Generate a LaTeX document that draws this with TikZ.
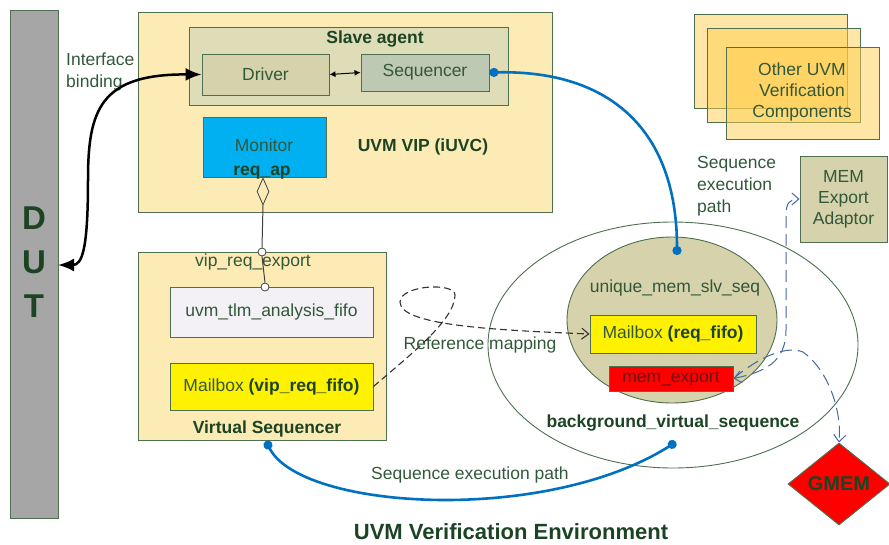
\documentclass[tikz,border=0pt]{standalone}
\usepackage{fontspec}
\setmainfont{Liberation Sans}
\usetikzlibrary{shapes.geometric,arrows.meta}

\definecolor{wheat}{RGB}{253,235,182}
\definecolor{edge}{RGB}{78,112,80}
\definecolor{agentfill}{RGB}{222,221,184}
\definecolor{khaki}{RGB}{214,210,171}
\definecolor{seqfill}{RGB}{190,201,180}
\definecolor{monblue}{RGB}{0,176,240}
\definecolor{fifofill}{RGB}{243,241,245}
\definecolor{txtgreen}{RGB}{50,88,58}
\definecolor{darkgreen}{RGB}{28,68,36}
\definecolor{pathblue}{RGB}{0,112,192}
\definecolor{dashblue}{RGB}{70,105,160}
\definecolor{dutgray}{RGB}{166,166,166}
\definecolor{gold}{RGB}{255,206,80}
\definecolor{darkred}{RGB}{110,20,20}

\tikzset{
  box/.style={draw=edge,line width=0.9pt,rectangle,inner sep=0pt,
    font=\fontsize{17.5}{21}\selectfont,text=txtgreen,align=center},
  lbl/.style={inner sep=0pt,font=\fontsize{17.5}{22}\selectfont,text=txtgreen},
  blbl/.style={inner sep=0pt,font=\fontsize{17.5}{22}\selectfont\bfseries,text=darkgreen},
  otherbox/.style={box,fill=gold,fill opacity=0.5,minimum width=153,minimum height=94},
  seqpath/.style={draw=pathblue,line width=2.6pt,{Circle[length=9pt]}-{Circle[length=9pt]}},
  bind/.style={line width=2.5pt,{Latex[length=16pt,width=13pt]}-{Latex[length=16pt,width=13pt]}},
  refmap/.style={draw=black!80,line width=1.1pt,dash pattern=on 7pt off 4pt,
    -{Straight Barb[length=7pt,width=11pt]}},
  memlink/.style={draw=dashblue,line width=1pt,dash pattern=on 12pt off 6pt},
  portlink/.style={draw=black!75,line width=1pt}
}

\begin{document}
\begin{tikzpicture}[x=1pt,y=-1pt]
    \useasboundingbox (0,0) rectangle (889,544);
    %% DUT
    \node[box,fill=dutgray,minimum width=48,minimum height=508] (dut) at (34,264) {};
    \node[font=\fontsize{33}{44}\selectfont\bfseries,text=darkgreen,align=center,inner sep=0] (dutname) at (34,262) {D\\U\\T};
    \coordinate (dutin) at (58,265);
    %% UVM VIP
    \node[box,fill=wheat,minimum width=414,minimum height=200] (vip) at (345,112) {};
    \node[box,fill=agentfill,minimum width=319,minimum height=78] (slave) at (348.5,66) {};
    \node[blbl] (slavename) at (375,39) {Slave agent};
    \node[box,fill=khaki,minimum width=127,minimum height=41] (driver) at (265.5,74.5) {Driver};
    \node[box,fill=seqfill,minimum width=128,minimum height=37] (seqr) at (425,72.5) {Sequencer};
    \node[box,fill=monblue,minimum width=123,minimum height=60] (monitor) at (264.5,147) {};
    \node[lbl] (monname) at (264,145) {Monitor};
    \node[blbl] (reqap) at (262,173) {req\_ap};
    \node[blbl] (vipname) at (423,147) {UVM VIP (iUVC)};
    %% Virtual sequencer
    \node[box,fill=wheat,minimum width=248,minimum height=188] (vseq) at (262,346) {};
    \node[lbl] (exportname) at (253,262) {vip\_req\_export};
    \node[box,fill=fifofill,minimum width=203,minimum height=50] (tlmfifo) at (271.5,312) {uvm\_tlm\_analysis\_fifo};
    \node[box,fill=yellow,minimum width=203,minimum height=47] (vipmbx) at (271.5,386.5) {Mailbox \textbf{\color{darkgreen}(vip\_req\_fifo)}};
    \node[blbl] (vseqname) at (267,429) {Virtual Sequencer};
    %% Port and export
    \node[diamond,draw=black!75,fill=wheat,line width=0.8pt,minimum width=12,minimum height=27,inner sep=0] (agg) at (263,191.5) {};
    \node[circle,draw=black!75,fill=white,line width=0.8pt,minimum size=8,inner sep=0] (exp1) at (262,252) {};
    \node[circle,draw=black!75,fill=white,line width=0.8pt,minimum size=8,inner sep=0] (exp2) at (265,287) {};
    \draw[portlink] (agg.south) -- (exp1.north);
    \draw[portlink] (exp1.south) -- (exp2.north);
    %% Background virtual sequence
    \node[ellipse,draw=edge,line width=0.9pt,fill=white,minimum width=370,minimum height=246,inner sep=0] (bgseq) at (673,345) {};
    \node[ellipse,draw=edge,line width=0.9pt,fill=khaki,minimum width=210,minimum height=166,inner sep=0] (memseq) at (672,320) {};
    \node[lbl] (memseqname) at (675,288) {unique\_mem\_slv\_seq};
    \node[box,fill=yellow,minimum width=166,minimum height=38] (reqmbx) at (673,334) {Mailbox \textbf{\color{darkgreen}(req\_fifo)}};
    \node[box,fill=red,text=darkred,minimum width=124,minimum height=25] (memexport) at (671,378.5) {mem\_export};
    \node[blbl] (bgname) at (673,423) {background\_virtual\_sequence};
    %% Other components
    \node[otherbox] (other1) at (771,61) {};
    \node[otherbox] (other2) at (783.5,75) {};
    \node[otherbox,minimum height=92] (other3) at (802.5,93) {};
    \node[lbl,align=center,font=\fontsize{17.5}{21}\selectfont] (othername) at (802,92) {Other UVM\\Verification\\Components};
    %% MEM adaptor and GMEM
    \node[box,fill=khaki,minimum width=87,minimum height=86] (adaptor) at (843.5,199) {MEM\\Export\\Adaptor};
    \node[diamond,draw=edge,line width=0.9pt,fill=red,minimum width=102,minimum height=82,inner sep=0,
      font=\fontsize{20}{24}\selectfont\bfseries,text=darkgreen] (gmem) at (839,484) {GMEM};
    %% Labels
    \node[lbl,align=left,anchor=west] (bindname) at (66,72) {Interface\\binding};
    \node[lbl,align=left,anchor=west] (exename) at (697,186) {Sequence\\execution\\path};
    \node[lbl] (refname) at (480,345) {Reference mapping};
    \node[lbl] (pathname) at (470,475) {Sequence execution path};
    \node[blbl,font=\fontsize{22}{26}\selectfont\bfseries] (title) at (511,532) {UVM Verification Environment};
    %% Connectors
    \coordinate (seqin) at (677,255);
    \coordinate (vsdot) at (266,441);
    \coordinate (bgdot) at (676,442);
    \draw[bind] (driver.west) .. controls (100,74) and (88,110) .. (88,180) .. controls (88,250) and (82,265) .. (dutin);
    \draw[line width=1pt,{Latex[length=6pt,width=6pt]}-{Latex[length=6pt,width=6pt]}] (driver.east) -- (seqr.west);
    \draw[seqpath] (seqr.east) .. controls (610,70) and (677,130) .. (seqin);
    \draw[seqpath] (vsdot) .. controls (300,510) and (545,525) .. (bgdot);
    \draw[refmap] (vipmbx.east) .. controls (410,355) and (455,320) .. (455,295) .. controls (455,282) and (400,285) .. (400,302) .. controls (400,325) and (490,330) .. (reqmbx.west);
    \draw[memlink,{Straight Barb[length=7pt,width=12pt]}-{Straight Barb[length=7pt,width=12pt]}] (memexport.east) .. controls (765,372) and (786,362) .. (786,330) -- (786,215) .. controls (786,203) and (790,199) .. (adaptor.west);
    \draw[memlink,-{Straight Barb[length=7pt,width=12pt]}] (memexport.east) .. controls (758,358) and (785,345) .. (803,352) .. controls (828,370) and (842,410) .. (gmem.north);
\end{tikzpicture}
\end{document}
